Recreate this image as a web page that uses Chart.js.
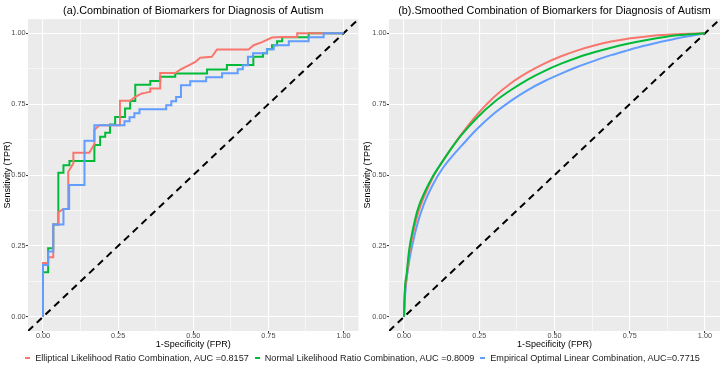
<!DOCTYPE html>
<html lang="en">
<head>
<meta charset="UTF-8">
<title>ROC curves - biomarker combinations</title>
<script src="https://cdn.jsdelivr.net/npm/chart.js"></script>
<style>
  body { margin: 0; background: #fff; font-family: 'Liberation Sans', Arial, sans-serif; }
  .wrap { position: relative; width: 725px; height: 371px; }
  #rocRaw { position: absolute; left: 0; top: 0; }
  #rocSmooth { position: absolute; left: 362px; top: 0; }
  .legend {
    position: absolute; left: 0; top: 351px; width: 725px; height: 14px;
    display: flex; justify-content: center; align-items: center;
    font-size: 9.1px; color: #1a1a1a; white-space: nowrap;
  }
  .legend .item { display: flex; align-items: center; margin: 0 3px; }
  .legend .key { width: 5px; height: 2px; margin-right: 5px; }
</style>
</head>
<body>
<div class="wrap">
  <canvas id="rocRaw" width="362" height="371"></canvas>
  <canvas id="rocSmooth" width="363" height="371"></canvas>
  <div class="legend" id="legend"></div>
</div>

<script>
// series labels + colours (ggplot defaults)
const seriesLabels = [
  'Elliptical Likelihood Ratio Combination, AUC =0.8157',
  'Normal Likelihood Ratio Combination, AUC =0.8009',
  'Empirical Optimal Linear Combination, AUC=0.7715'
];
const seriesColors = ['#F8766D', '#00BA38', '#619CFF'];
const tickValues = [0, 0.25, 0.5, 0.75, 1];
const gridValues = [0, 0.125, 0.25, 0.375, 0.5, 0.625, 0.75, 0.875, 1];

// (a) empirical ROC vertices
const ellipFpr = [0, 0, 0.017, 0.017, 0.034, 0.034, 0.051, 0.051, 0.068, 0.084, 0.084, 0.101, 0.101, 0.154, 0.171, 0.171, 0.188, 0.256, 0.256, 0.29, 0.307, 0.329, 0.34, 0.357, 0.357, 0.39, 0.39, 0.44, 0.457, 0.49, 0.507, 0.523, 0.562, 0.579, 0.684, 0.701, 0.729, 0.762, 0.796, 0.846, 0.846, 1];
const ellipTpr = [0, 0.19, 0.19, 0.21, 0.21, 0.326, 0.326, 0.369, 0.38, 0.38, 0.512, 0.541, 0.579, 0.579, 0.61, 0.66, 0.676, 0.676, 0.762, 0.762, 0.776, 0.788, 0.79, 0.794, 0.805, 0.805, 0.86, 0.86, 0.872, 0.89, 0.899, 0.914, 0.917, 0.943, 0.943, 0.958, 0.969, 0.985, 0.987, 0.987, 1, 1];

const normFpr = [0, 0, 0.017, 0.017, 0.034, 0.034, 0.051, 0.051, 0.068, 0.068, 0.088, 0.088, 0.171, 0.171, 0.19, 0.19, 0.207, 0.207, 0.223, 0.223, 0.24, 0.24, 0.273, 0.273, 0.29, 0.29, 0.307, 0.307, 0.357, 0.357, 0.39, 0.39, 0.44, 0.44, 0.546, 0.546, 0.612, 0.612, 0.70, 0.70, 0.732, 0.732, 0.746, 0.746, 0.762, 0.762, 0.779, 0.779, 0.796, 0.796, 0.884, 0.884, 1];
const normTpr = [0, 0.157, 0.157, 0.242, 0.242, 0.326, 0.326, 0.508, 0.508, 0.535, 0.535, 0.55, 0.55, 0.606, 0.606, 0.635, 0.635, 0.649, 0.649, 0.678, 0.678, 0.705, 0.705, 0.735, 0.735, 0.761, 0.761, 0.819, 0.819, 0.832, 0.832, 0.847, 0.847, 0.858, 0.858, 0.872, 0.872, 0.888, 0.888, 0.917, 0.917, 0.93, 0.93, 0.944, 0.944, 0.958, 0.958, 0.972, 0.972, 0.986, 0.986, 1, 1];

const empFpr = [0, 0, 0.017, 0.017, 0.034, 0.034, 0.068, 0.068, 0.087, 0.087, 0.138, 0.138, 0.171, 0.171, 0.271, 0.271, 0.288, 0.288, 0.304, 0.304, 0.321, 0.321, 0.41, 0.41, 0.427, 0.427, 0.443, 0.443, 0.459, 0.459, 0.49, 0.49, 0.543, 0.543, 0.596, 0.596, 0.648, 0.648, 0.665, 0.665, 0.682, 0.682, 0.699, 0.699, 0.745, 0.745, 0.768, 0.768, 0.818, 0.818, 0.884, 0.884, 0.934, 0.934, 1];
const empTpr = [0, 0.183, 0.183, 0.23, 0.23, 0.326, 0.326, 0.38, 0.38, 0.465, 0.465, 0.621, 0.621, 0.676, 0.676, 0.69, 0.69, 0.704, 0.704, 0.718, 0.718, 0.732, 0.732, 0.746, 0.746, 0.76, 0.76, 0.775, 0.775, 0.817, 0.817, 0.831, 0.831, 0.845, 0.845, 0.859, 0.859, 0.873, 0.873, 0.887, 0.887, 0.917, 0.917, 0.93, 0.93, 0.944, 0.944, 0.958, 0.958, 0.972, 0.972, 0.986, 0.986, 1, 1];

// (b) smoothed ROC points
const smEllipFpr = [0, 0.002, 0.009, 0.017, 0.029, 0.045, 0.067, 0.095, 0.129, 0.148, 0.189, 0.245, 0.3, 0.355, 0.411, 0.466, 0.522, 0.577, 0.632, 0.688, 0.743, 0.798, 0.854, 0.909, 1];
const smEllipTpr = [0, 0.07, 0.14, 0.22, 0.29, 0.36, 0.425, 0.49, 0.55, 0.58, 0.642, 0.716, 0.776, 0.824, 0.862, 0.893, 0.919, 0.94, 0.957, 0.971, 0.981, 0.988, 0.994, 0.997, 1];
const smNormFpr = [0, 0.002, 0.009, 0.017, 0.029, 0.045, 0.067, 0.095, 0.129, 0.162, 0.189, 0.245, 0.3, 0.355, 0.411, 0.466, 0.522, 0.577, 0.632, 0.688, 0.743, 0.798, 0.854, 0.909, 1];
const smNormTpr = [0, 0.083, 0.154, 0.236, 0.306, 0.377, 0.436, 0.494, 0.55, 0.601, 0.639, 0.705, 0.758, 0.80, 0.837, 0.867, 0.893, 0.915, 0.933, 0.949, 0.963, 0.975, 0.985, 0.993, 1];
const smEmpFpr = [0, 0.002, 0.007, 0.016, 0.029, 0.045, 0.067, 0.095, 0.129, 0.167, 0.189, 0.245, 0.3, 0.355, 0.411, 0.466, 0.522, 0.577, 0.632, 0.688, 0.743, 0.798, 0.854, 0.909, 1];
const smEmpTpr = [0, 0.05, 0.119, 0.189, 0.26, 0.33, 0.4, 0.465, 0.525, 0.575, 0.601, 0.665, 0.718, 0.762, 0.8, 0.831, 0.858, 0.882, 0.903, 0.923, 0.94, 0.956, 0.97, 0.983, 1];

const refLine = [-0.05, 1.05];

const pts = (xs, ys) => xs.map((x, i) => ({ x, y: ys[i] }));
const isMajor = v => Math.abs(v * 4 - Math.round(v * 4)) < 1e-6;

const panelBg = {
  id: 'panelBg',
  beforeDraw(chart) {
    const { ctx, chartArea: a } = chart;
    ctx.save();
    ctx.fillStyle = '#EBEBEB';
    ctx.fillRect(a.left, a.top, a.right - a.left, a.bottom - a.top);
    ctx.restore();
  }
};

function axis(titleText, isX, size, titlePad) {
  return {
    type: 'linear', min: -0.05, max: 1.05,
    afterBuildTicks: s => { s.ticks = gridValues.map(v => ({ value: v })); },
    afterFit: s => { if (isX) s.height = size; else s.width = size; },
    border: { display: false },
    grid: {
      color: '#FFFFFF',
      lineWidth: c => (c.tick && isMajor(c.tick.value)) ? 1.1 : 0.55,
      drawTicks: true,
      tickLength: 2,
      tickColor: c => (c.tick && isMajor(c.tick.value)) ? '#333333' : 'rgba(0,0,0,0)',
      tickWidth: 1
    },
    ticks: {
      autoSkip: false, maxRotation: 0, padding: isX ? -1 : 0.5,
      color: '#4D4D4D',
      font: { family: 'Liberation Sans', size: 7.3 },
      callback: v => isMajor(v) ? v.toFixed(2) : ''
    },
    title: {
      display: true, text: titleText, color: '#000',
      font: { family: 'Liberation Sans', size: 9 },
      padding: titlePad
    }
  };
}

function makeRoc(id, titleText, series, yWidth, padRight, yTitlePad, orders) {
  const datasets = series.map((s, i) => ({
    label: seriesLabels[i],
    data: pts(s[0], s[1]),
    borderColor: seriesColors[i],
    borderWidth: 2,
    pointRadius: 0,
    showLine: true,
    fill: false,
    tension: s[2] ? 0.4 : 0,
    cubicInterpolationMode: s[2] ? 'monotone' : 'default',
    order: orders[i]
  }));
  datasets.push({
    label: 'ref',
    data: pts(refLine, refLine),
    borderColor: '#000',
    borderWidth: 2,
    borderDash: [7, 5],
    pointRadius: 0,
    showLine: true,
    order: 9
  });

  return new Chart(document.getElementById(id), {
    type: 'scatter',
    data: { datasets },
    options: {
      responsive: false,
      animation: false,
      layout: { padding: { top: 0, right: padRight, bottom: 21, left: 0 } },
      plugins: {
        legend: { display: false },
        tooltip: { enabled: false },
        title: {
          display: true, text: titleText, fullSize: false,
          color: '#000',
          font: { family: 'Liberation Sans', size: 10.8, weight: 'normal' },
          padding: { top: 4.5, bottom: 1.7 }
        }
      },
      scales: {
        x: axis('1-Specificity (FPR)', true, 19, { top: 0, bottom: 0 }),
        y: axis('Sensitivity (TPR)', false, yWidth, { top: yTitlePad, bottom: 0 })
      }
    },
    plugins: [panelBg]
  });
}

makeRoc('rocRaw', '(a).Combination of Biomarkers for Diagnosis of Autism',
  [[ellipFpr, ellipTpr, false], [normFpr, normTpr, false], [empFpr, empTpr, false]],
  28, 3.5, 2, [2, 3, 1]);

makeRoc('rocSmooth', '(b).Smoothed Combination of Biomarkers for Diagnosis of Autism',
  [[smEllipFpr, smEllipTpr, true], [smNormFpr, smNormTpr, true], [smEmpFpr, smEmpTpr, true]],
  27, 5, 0, [2, 1, 3]);

// legend below both panels
const legendEl = document.getElementById('legend');
seriesLabels.forEach((lab, i) => {
  const item = document.createElement('span');
  item.className = 'item';
  item.innerHTML = '<span class="key" style="background:' + seriesColors[i] + '"></span>' + lab;
  legendEl.appendChild(item);
});
</script>
</body>
</html>
